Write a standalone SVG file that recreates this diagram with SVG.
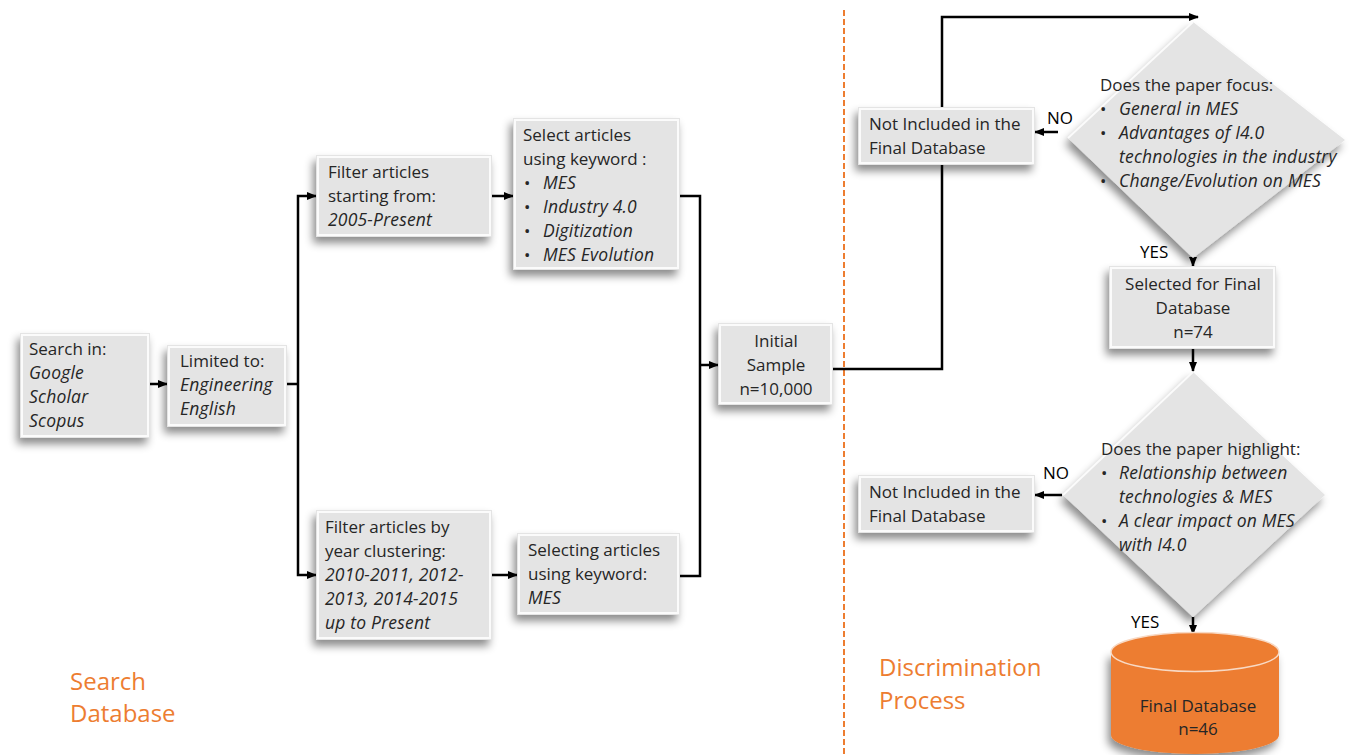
<svg xmlns="http://www.w3.org/2000/svg" width="1355" height="755" viewBox="0 0 1355 755">
  <defs>
    <filter id="shadow" x="-20%" y="-20%" width="140%" height="150%">
      <feDropShadow dx="-3" dy="6" stdDeviation="4" flood-color="#000" flood-opacity="0.45"/>
    </filter>
    <marker id="arrow" viewBox="0 0 10 10" refX="9" refY="5" markerWidth="10" markerHeight="10" markerUnits="userSpaceOnUse" orient="auto">
      <path d="M0,1 L10,5 L0,9 Z" fill="#000"/>
    </marker>
  </defs>
  <style>
    .box { fill: #e4e4e4; filter: url(#shadow); }
    .bevel { fill: none; stroke: #fbfbfb; stroke-width: 2; }
    .dia { fill: #e4e4e4; filter: url(#shadow); }
    .t { font-family: "Open Sans", "Liberation Sans", sans-serif; font-size: 17px; fill: #262626; }
    .i { font-style: italic; font-size: 17.5px; letter-spacing: 0.2px; }
    .c { text-anchor: middle; }
    .lbl { font-family: "Open Sans", "Liberation Sans", sans-serif; font-size: 17px; fill: #000; }
    .sec { font-family: "Open Sans", "Liberation Sans", sans-serif; font-size: 24px; fill: #ED7D31; }
    .wire { fill: none; stroke: #000; stroke-width: 2.5; }
    .arr { fill: none; stroke: #000; stroke-width: 2.5; marker-end: url(#arrow); }
  </style>

  <rect width="1355" height="755" fill="#fff"/>

  <!-- section divider -->
  <line x1="844" y1="10" x2="844" y2="755" stroke="#ED7D31" stroke-width="2" stroke-dasharray="6 3"/>

  <!-- section titles -->
  <text class="sec" x="70" y="690">Search</text>
  <text class="sec" x="70" y="722">Database</text>
  <text class="sec" x="879" y="676">Discrimination</text>
  <text class="sec" x="879" y="709">Process</text>

  <!-- connectors -->
  <g id="connectors">
    <line class="arr" x1="150" y1="384" x2="167" y2="384"/>
    <polyline class="wire" points="287,384 298,384"/>
    <polyline class="arr" points="298,384 298,196 316,196"/>
    <polyline class="arr" points="298,384 298,575 316,575"/>
    <line class="arr" x1="492" y1="196" x2="513" y2="196"/>
    <line class="arr" x1="492" y1="575" x2="517" y2="575"/>
    <polyline class="wire" points="680,196 700,196 700,576 680,576"/>
    <line class="arr" x1="700" y1="365" x2="718" y2="365"/>
    <polyline class="arr" points="833,369 942,369 942,17 1198,17"/>
    <line class="arr" x1="1058" y1="132" x2="1035" y2="132"/>
    <line class="arr" x1="1193" y1="250" x2="1193" y2="266"/>
    <line class="arr" x1="1193" y1="349" x2="1193" y2="371"/>
    <line class="arr" x1="1062" y1="495" x2="1035" y2="495"/>
    <line class="arr" x1="1193" y1="617" x2="1193" y2="634"/>
  </g>

  <!-- edge labels -->
  <text class="lbl" x="1047" y="124">NO</text>
  <text class="lbl" x="1140" y="258">YES</text>
  <text class="lbl" x="1043" y="479">NO</text>
  <text class="lbl" x="1131" y="628">YES</text>

  <g id="search-in">
    <rect class="box" x="20" y="333" width="130" height="105"/>
    <rect class="bevel" x="22" y="335" width="126" height="101"/>
    <text class="t" x="29" y="355">Search in:</text>
    <text class="t i" x="29" y="379">Google</text>
    <text class="t i" x="29" y="403">Scholar</text>
    <text class="t i" x="29" y="427">Scopus</text>
  </g>

  <g id="limited-to">
    <rect class="box" x="167" y="345" width="120" height="82"/>
    <rect class="bevel" x="169" y="347" width="116" height="78"/>
    <text class="t" x="180" y="367">Limited to:</text>
    <text class="t i" x="180" y="391">Engineering</text>
    <text class="t i" x="180" y="415">English</text>
  </g>

  <g id="filter-start">
    <rect class="box" x="316" y="155" width="176" height="82"/>
    <rect class="bevel" x="318" y="157" width="172" height="78"/>
    <text class="t" x="328" y="178">Filter articles</text>
    <text class="t" x="328" y="202">starting from:</text>
    <text class="t i" x="328" y="226">2005-Present</text>
  </g>

  <g id="select-keyword">
    <rect class="box" x="513" y="118" width="167" height="152"/>
    <rect class="bevel" x="515" y="120" width="163" height="148"/>
    <text class="t" x="523" y="141">Select articles</text>
    <text class="t" x="523" y="165">using keyword :</text>
    <text class="t" x="524" y="189">•</text><text class="t i" x="543" y="189">MES</text>
    <text class="t" x="524" y="213">•</text><text class="t i" x="543" y="213">Industry 4.0</text>
    <text class="t" x="524" y="237">•</text><text class="t i" x="543" y="237">Digitization</text>
    <text class="t" x="524" y="261">•</text><text class="t i" x="543" y="261">MES Evolution</text>
  </g>

  <g id="filter-year">
    <rect class="box" x="316" y="510" width="176" height="130"/>
    <rect class="bevel" x="318" y="512" width="172" height="126"/>
    <text class="t" x="325" y="533">Filter articles by</text>
    <text class="t" x="325" y="557">year clustering:</text>
    <text class="t i" x="325" y="581">2010-2011, 2012-</text>
    <text class="t i" x="325" y="605">2013, 2014-2015</text>
    <text class="t i" x="325" y="629">up to Present</text>
  </g>

  <g id="selecting-mes">
    <rect class="box" x="517" y="533" width="163" height="82"/>
    <rect class="bevel" x="519" y="535" width="159" height="78"/>
    <text class="t" x="528" y="556">Selecting articles</text>
    <text class="t" x="528" y="580">using keyword:</text>
    <text class="t i" x="528" y="604">MES</text>
  </g>

  <g id="initial-sample">
    <rect class="box" x="718" y="323" width="115" height="82"/>
    <rect class="bevel" x="720" y="325" width="111" height="78"/>
    <text class="t c" x="776" y="347">Initial</text>
    <text class="t c" x="776" y="371">Sample</text>
    <text class="t c" x="776" y="395">n=10,000</text>
  </g>

  <g id="decision-focus">
    <polygon class="dia" points="1193,22 1345,140 1193,258 1068,138"/>
    <polyline points="1068,138 1193,22" fill="none" stroke="#fbfbfb" stroke-width="2"/>
    <text class="t" x="1100" y="91">Does the paper focus:</text>
    <text class="t" x="1100" y="115">•</text><text class="t i" x="1119" y="115">General in MES</text>
    <text class="t" x="1100" y="139">•</text><text class="t i" x="1119" y="139">Advantages of I4.0</text>
    <text class="t i" x="1119" y="163">technologies in the industry</text>
    <text class="t" x="1100" y="187">•</text><text class="t i" x="1119" y="187">Change/Evolution on MES</text>
  </g>

  <g id="not-included-1">
    <rect class="box" x="858" y="107" width="177" height="58"/>
    <rect class="bevel" x="860" y="109" width="173" height="54"/>
    <text class="t" x="869" y="130">Not Included in the</text>
    <text class="t" x="869" y="154">Final Database</text>
  </g>

  <g id="selected-final">
    <rect class="box" x="1109" y="266" width="167" height="83"/>
    <rect class="bevel" x="1111" y="268" width="163" height="79"/>
    <text class="t c" x="1193" y="290">Selected for Final</text>
    <text class="t c" x="1193" y="314">Database</text>
    <text class="t c" x="1193" y="338">n=74</text>
  </g>

  <g id="decision-highlight">
    <polygon class="dia" points="1193,372 1325,495 1193,617 1063,495"/>
    <polyline points="1063,495 1193,372" fill="none" stroke="#fbfbfb" stroke-width="2"/>
    <text class="t" x="1101" y="455">Does the paper highlight:</text>
    <text class="t" x="1101" y="479">•</text><text class="t i" x="1119" y="479">Relationship between</text>
    <text class="t i" x="1119" y="503">technologies &amp; MES</text>
    <text class="t" x="1101" y="527">•</text><text class="t i" x="1119" y="527">A clear impact on MES</text>
    <text class="t i" x="1119" y="551">with I4.0</text>
  </g>

  <g id="not-included-2">
    <rect class="box" x="858" y="475" width="177" height="58"/>
    <rect class="bevel" x="860" y="477" width="173" height="54"/>
    <text class="t" x="869" y="498">Not Included in the</text>
    <text class="t" x="869" y="522">Final Database</text>
  </g>

  <g id="final-database">
    <path d="M1111,652 L1111,735 A84,19 0 0 0 1279,735 L1279,652 Z" fill="#ED7D31" filter="url(#shadow)"/>
    <ellipse cx="1195" cy="652" rx="84" ry="19.5" fill="#ED7D31" stroke="#f8d9c4" stroke-width="1.5"/>
    <text class="t c" x="1198" y="712">Final Database</text>
    <text class="t c" x="1198" y="735">n=46</text>
  </g>
</svg>
